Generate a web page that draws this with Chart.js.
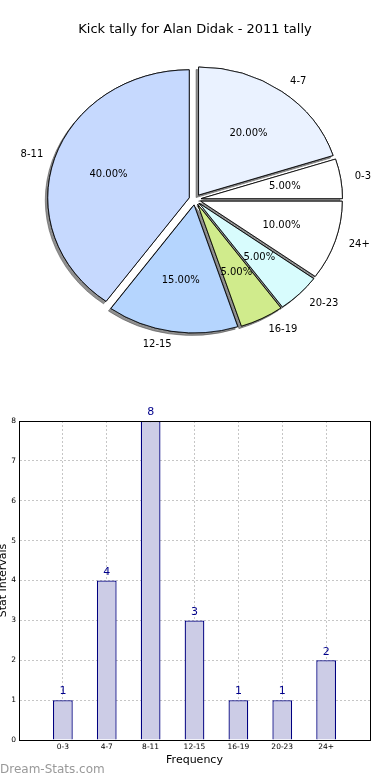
<!DOCTYPE html>
<html>
<head>
<meta charset="utf-8">
<script src="https://cdn.jsdelivr.net/npm/chart.js@4"></script>
<style>
  body { margin: 0; background: #fff; width: 390px; height: 780px; position: relative; overflow: hidden; }
  #pieBox { position: absolute; left: 0; top: 0; }
  #barBox { position: absolute; left: 0; top: 380px; }
  #mark { position: absolute; left: 0; top: 762px; font: 12px 'DejaVu Sans', sans-serif; color: #999; }
</style>
</head>
<body>
<div id="pieBox"><canvas id="pieChart" width="390" height="370"></canvas></div>
<div id="barBox"><canvas id="barChart" width="390" height="400"></canvas></div>
<div id="mark">Dream-Stats.com</div>
<script>
const categories = ['0-3', '4-7', '8-11', '12-15', '16-19', '20-23', '24+'];
const counts = [1, 4, 8, 3, 1, 1, 2];
const sliceColors = ['#ffffff', '#eaf2ff', '#c6d9fe', '#b5d5fe', '#d0eb8c', '#d8fcfd', '#ffffff'];
const yTicks = [0, 1, 2, 3, 4, 5, 6, 7, 8];

const total = counts.reduce((a, b) => a + b, 0);
const FONT = 'DejaVu Sans';

// the reference pie goes counter-clockwise from 3 o'clock, Chart.js goes clockwise
const pieLabels = categories.slice().reverse();
const pieCounts = counts.slice().reverse();
const pieColors = sliceColors.slice().reverse();

const STRETCH = 1.105; // the pie is a bit wider than tall
const EXPLODE = 5.5;

function slicePoint(arc, dist) {
    const mid = (arc.startAngle + arc.endAngle) / 2;
    const r = EXPLODE + dist * arc.outerRadius;
    return { x: arc.x + STRETCH * r * Math.cos(mid), y: arc.y + r * Math.sin(mid), cos: Math.cos(mid) };
}

const pieDecor = {
    id: 'pieDecor',
    beforeDatasetsDraw(chart) {
        const ctx = chart.ctx;
        const arcs = chart.getDatasetMeta(0).data;
        // first pass with shadows, second pass on top without
        [true, false].forEach(shadow => {
            arcs.forEach(arc => {
                const mid = (arc.startAngle + arc.endAngle) / 2;
                ctx.save();
                if (shadow) {
                    ctx.shadowColor = 'rgba(70,70,70,0.6)';
                    ctx.shadowOffsetX = -2.5;
                    ctx.shadowOffsetY = 2.5;
                }
                ctx.translate(arc.x, arc.y);
                ctx.scale(STRETCH, 1);
                ctx.translate(EXPLODE * Math.cos(mid) - arc.x, EXPLODE * Math.sin(mid) - arc.y);
                arc.draw(ctx);
                ctx.restore();
            });
        });
        return false;
    },
    afterDraw(chart) {
        const ctx = chart.ctx;
        const arcs = chart.getDatasetMeta(0).data;
        ctx.save();
        ctx.font = '10px "' + FONT + '"';
        ctx.fillStyle = '#000';
        ctx.textBaseline = 'middle';
        arcs.forEach((arc, i) => {
            const lab = slicePoint(arc, 1.1);
            ctx.textAlign = lab.cos > 0 ? 'left' : 'right';
            ctx.fillText(pieLabels[i], lab.x + (lab.cos > 0 ? 0 : 2), lab.y);
            const pct = slicePoint(arc, 0.6);
            ctx.textAlign = 'center';
            ctx.fillText((pieCounts[i] / total * 100).toFixed(2) + '%', pct.x, pct.y);
        });
        ctx.restore();
    }
};

new Chart(document.getElementById('pieChart'), {
    type: 'pie',
    data: {
        labels: pieLabels,
        datasets: [{
            data: pieCounts,
            backgroundColor: pieColors,
            borderColor: '#000',
            borderWidth: 0.8,
            radius: 128
        }]
    },
    options: {
        responsive: false,
        animation: false,
        events: [],
        rotation: 90,
        layout: { padding: { left: 1, right: 1, top: 0, bottom: 8.6 } },
        plugins: {
            legend: { display: false },
            tooltip: { enabled: false },
            title: {
                display: true,
                text: 'Kick tally for Alan Didak - 2011 tally',
                color: '#000',
                font: { family: FONT, size: 13, weight: 'normal' },
                padding: { top: 22, bottom: 0 }
            }
        }
    },
    plugins: [pieDecor]
});

const barExtras = {
    id: 'barExtras',
    afterDraw(chart) {
        const ctx = chart.ctx;
        const a = chart.chartArea;
        ctx.save();
        ctx.strokeStyle = '#000';
        ctx.lineWidth = 1;
        ctx.strokeRect(Math.round(a.left) + 0.5, Math.round(a.top) + 0.5, Math.round(a.right - a.left), Math.round(a.bottom - a.top));
        ctx.font = '11px "' + FONT + '"';
        ctx.fillStyle = '#00008b';
        ctx.textAlign = 'center';
        ctx.textBaseline = 'bottom';
        chart.getDatasetMeta(0).data.forEach((bar, i) => {
            ctx.fillText(String(counts[i]), bar.x, bar.y - 3);
        });
        ctx.restore();
    }
};

new Chart(document.getElementById('barChart'), {
    type: 'bar',
    data: {
        datasets: [{
            data: categories.map((c, i) => ({ x: i + 1, y: counts[i] })),
            backgroundColor: '#cccce6',
            borderColor: '#000080',
            borderWidth: 1.3,
            categoryPercentage: 1,
            barPercentage: 0.45
        }]
    },
    options: {
        responsive: false,
        animation: false,
        events: [],
        layout: { padding: { top: 41, right: 20, left: 0, bottom: 0 } },
        plugins: { legend: { display: false }, tooltip: { enabled: false } },
        scales: {
            x: {
                type: 'linear',
                min: 0,
                max: categories.length + 1,
                offset: false,
                z: 1,
                afterFit: s => { s.height = 40; },
                grid: { offset: false, color: '#c6c6c6', drawTicks: false },
                border: { color: '#000', dash: [2, 2] },
                ticks: {
                    stepSize: 1,
                    autoSkip: false,
                    maxRotation: 0,
                    padding: 3,
                    color: '#000',
                    font: { family: FONT, size: 7.5 },
                    callback: v => categories[v - 1] || ''
                },
                title: {
                    display: true,
                    text: 'Frequency',
                    color: '#000',
                    font: { family: FONT, size: 11 },
                    padding: { top: 0, bottom: 13 }
                }
            },
            y: {
                min: yTicks[0],
                max: yTicks[yTicks.length - 1],
                z: 1,
                afterFit: s => { s.width = 19; },
                grid: { color: '#c6c6c6', drawTicks: false },
                border: { color: '#000', dash: [2, 2] },
                ticks: {
                    stepSize: 1,
                    padding: 3,
                    color: '#000',
                    font: { family: FONT, size: 7.5 }
                },
                title: {
                    display: true,
                    text: 'Stat Intervals',
                    color: '#000',
                    font: { family: FONT, size: 11 },
                    padding: { top: -3, bottom: 0 }
                }
            }
        }
    },
    plugins: [barExtras]
});
</script>
</body>
</html>
